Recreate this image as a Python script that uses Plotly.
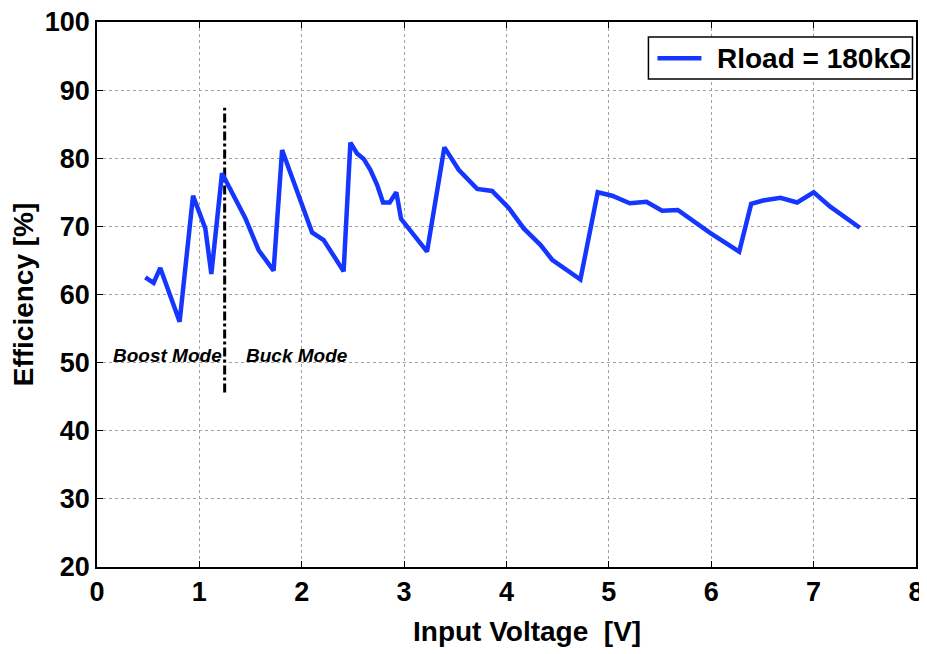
import plotly.graph_objects as go

voltage = [0.472, 0.553, 0.618, 0.807, 0.938, 1.058, 1.117, 1.221, 1.449, 1.579, 1.725,
           1.808, 2.101, 2.214, 2.409, 2.475, 2.540, 2.605, 2.670, 2.736, 2.794, 2.859,
           2.924, 2.970, 3.224, 3.393, 3.533, 3.713, 3.859, 4.022, 4.168, 4.331, 4.446,
           4.722, 4.891, 5.032, 5.204, 5.367, 5.520, 5.673, 5.992, 6.273, 6.390, 6.507,
           6.676, 6.839, 7.001, 7.162, 7.451]
efficiency = [62.5, 61.7, 63.9, 56.0, 74.5, 69.7, 63.0, 77.8, 71.2, 66.5, 63.5,
              81.2, 69.1, 68.0, 63.4, 82.3, 80.7, 79.9, 78.3, 76.1, 73.5, 73.5,
              75.0, 71.1, 66.3, 81.6, 78.3, 75.5, 75.2, 72.7, 69.7, 67.3, 65.1,
              62.2, 75.0, 74.5, 73.4, 73.6, 72.3, 72.4, 69.0, 66.3, 73.3, 73.8,
              74.2, 73.5, 75.0, 72.9, 69.8]

series_name = "Rload = 180kΩ"

mode_boundary_x = [1.247, 1.247]
mode_boundary_y = [45.6, 87.4]

mode_labels = ["Boost Mode", "Buck Mode"]
mode_label_x = [0.684, 1.952]
mode_label_y = [51.1, 51.1]

x_ticks = [0, 1, 2, 3, 4, 5, 6, 7, 8]
y_ticks = [20, 30, 40, 50, 60, 70, 80, 90, 100]

FONT = "Liberation Sans, Arial, Helvetica, sans-serif"
BLUE = "#1536FF"

fig = go.Figure()
fig.add_trace(go.Scatter(
    x=mode_boundary_x, y=mode_boundary_y, mode="lines",
    line=dict(color="black", width=3, dash="dashdot"),
    showlegend=False, hoverinfo="skip"))
fig.add_trace(go.Scatter(
    x=voltage, y=efficiency, mode="lines", name=series_name,
    line=dict(color=BLUE, width=4.5), showlegend=False))

for t, xx, yy in zip(mode_labels, mode_label_x, mode_label_y):
    fig.add_annotation(x=xx, y=yy, text="<b><i>" + t + "</i></b>", showarrow=False,
                       font=dict(family=FONT, size=19, color="black"),
                       xanchor="center", yanchor="middle")

# legend box drawn in paper coordinates
fig.add_shape(type="rect", xref="paper", yref="paper",
              x0=0.6733, x1=0.9957, y0=0.8955, y1=0.9725,
              line=dict(color="black", width=1.5), fillcolor="white", layer="above")
fig.add_shape(type="line", xref="paper", yref="paper",
              x0=0.6843, x1=0.7380, y0=0.9334, y1=0.9334,
              line=dict(color=BLUE, width=4.5), layer="above")
fig.add_annotation(xref="paper", yref="paper", x=0.7551, y=0.9334,
                   text="<b>" + series_name + "</b>", showarrow=False,
                   xanchor="left", yanchor="middle",
                   font=dict(family=FONT, size=28, color="black"))

# x axis title
fig.add_annotation(xref="paper", yref="paper", x=0.5255, y=-0.1187,
                   text="<b>Input Voltage  [V]</b>", showarrow=False,
                   xanchor="center", yanchor="middle",
                   font=dict(family=FONT, size=28, color="black"))

axis_common = dict(
    showline=True, linecolor="black", linewidth=1.5, mirror="ticks",
    ticks="inside", ticklen=6, tickcolor="black", tickwidth=1,
    showgrid=True, gridcolor="#a0a0a0", griddash="dot", gridwidth=1,
    zeroline=False, automargin=False, ticklabeloverflow="allow",
    tickfont=dict(family=FONT, size=27, color="black", weight="bold"),
)

fig.update_xaxes(range=[0, 8], tickvals=x_ticks, **axis_common)
fig.update_yaxes(range=[20, 100], tickvals=y_ticks, **axis_common,
                 title=dict(text="Efficiency [%]",
                            font=dict(family=FONT, size=28, color="black", weight="bold")))

fig.update_layout(
    width=919, height=646,
    margin=dict(l=89, r=11, t=14, b=87),
    plot_bgcolor="white", paper_bgcolor="white",
    showlegend=False,
)

fig.write_html("out.html")
